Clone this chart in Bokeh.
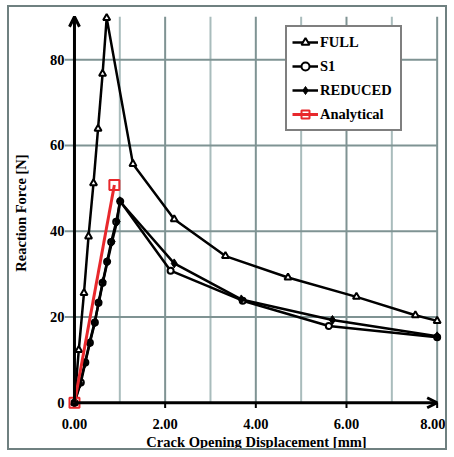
from bokeh.plotting import figure
from bokeh.models import (Range1d, FixedTicker, PrintfTickFormatter, Arrow, OpenHead, Legend)
from bokeh.embed import file_html
from bokeh.resources import INLINE

# ---- data ----
full_x = [0, 0.095, 0.21, 0.31, 0.42, 0.52, 0.62, 0.71, 1.29, 2.2, 3.33, 4.71, 6.22, 7.52, 8.0]
full_y = [0, 12.3, 25.6, 38.8, 51.2, 63.9, 76.7, 89.7, 55.7, 42.8, 34.2, 29.2, 24.7, 20.4, 19.1]

s1_x = [0, 0.14, 0.24, 0.34, 0.45, 0.53, 0.62, 0.72, 0.81, 0.92, 1.01, 2.12, 3.71, 5.61, 8.0]
s1_y = [0, 4.7, 9.4, 14.0, 18.7, 23.3, 28.0, 32.9, 37.5, 42.2, 47.0, 30.8, 23.8, 17.9, 15.3]

reduced_x = [0, 0.12, 0.23, 0.33, 0.44, 0.54, 0.63, 0.73, 0.83, 0.94, 1.0, 2.2, 3.68, 5.69, 8.0]
reduced_y = [0, 4.5, 9.2, 13.9, 18.6, 23.5, 28.2, 33.0, 37.6, 42.3, 47.0, 32.5, 24.1, 19.3, 15.5]

analytical_x = [0, 0.88]
analytical_y = [0, 50.8]

x_ticks = [0, 2, 4, 6, 8]
x_grid_major = [2, 4, 6, 8]
x_grid_minor = [1, 3, 5, 7]
y_ticks = [0, 20, 40, 60, 80]
y_grid = [20, 40, 60, 80]
X_MAX = 8
Y_MAX = 90
X_START, X_END = -0.22, 8.25
Y_START, Y_END = -2.5, 91

FONT = "Liberation Serif"
FS = "14.5px"
W, H = 440, 445

p = figure(width=W, height=H, output_backend="svg", toolbar_location=None,
           x_range=Range1d(X_START, X_END), y_range=Range1d(Y_START, Y_END),
           min_border_left=54, min_border_right=1, min_border_top=5, min_border_bottom=38,
           background_fill_color="white", border_fill_color="white",
           styles={"border": "2px solid #6f8080", "margin-left": "7px", "margin-top": "5px"})
p.outline_line_color = None
p.xgrid.visible = False
p.ygrid.visible = False

# grid lines drawn from the tick arrays
p.segment(x0=x_grid_minor, y0=[0] * len(x_grid_minor), x1=x_grid_minor, y1=[Y_MAX] * len(x_grid_minor),
          line_color="#a9bcbc", line_width=2)
p.segment(x0=x_grid_major, y0=[0] * len(x_grid_major), x1=x_grid_major, y1=[Y_MAX] * len(x_grid_major),
          line_color="#7f9393", line_width=2)
p.segment(x0=[X_START] * len(y_grid), y0=y_grid, x1=[X_MAX] * len(y_grid), y1=y_grid,
          line_color="#7f9393", line_width=2)
# x tick marks below the axis line
p.segment(x0=x_ticks, y0=[0] * len(x_ticks), x1=x_ticks, y1=[-1.2] * len(x_ticks),
          line_color="black", line_width=2)

# axes (labels only; lines drawn as arrows)
xa = p.xaxis[0]
xa.ticker = FixedTicker(ticks=x_ticks)
xa.formatter = PrintfTickFormatter(format="%.2f")
xa.axis_line_color = None
xa.major_tick_line_color = None
xa.major_tick_out = 0
xa.major_tick_in = 0
xa.minor_tick_line_color = None
xa.major_label_standoff = 5
xa.major_label_text_font = FONT
xa.major_label_text_font_style = "bold"
xa.major_label_text_font_size = FS
xa.major_label_text_color = "black"
xa.axis_label = "Crack Opening Displacement [mm]"
xa.axis_label_text_font = FONT
xa.axis_label_text_font_style = "bold"
xa.axis_label_text_font_size = FS
xa.axis_label_text_color = "black"
xa.axis_label_standoff = 2

ya = p.yaxis[0]
ya.ticker = FixedTicker(ticks=y_ticks)
ya.axis_line_color = None
ya.major_tick_line_color = None
ya.major_tick_out = 0
ya.major_tick_in = 0
ya.minor_tick_line_color = None
ya.major_label_standoff = 0
ya.major_label_text_font = FONT
ya.major_label_text_font_style = "bold"
ya.major_label_text_font_size = FS
ya.major_label_text_color = "black"
ya.axis_label = "Reaction Force [N]"
ya.axis_label_text_font = FONT
ya.axis_label_text_font_style = "bold"
ya.axis_label_text_font_size = FS
ya.axis_label_text_color = "black"
ya.axis_label_standoff = 18

# axis lines with arrow heads
p.add_layout(Arrow(end=OpenHead(size=10, line_width=3, line_color="black"),
                   x_start=0, y_start=0, x_end=X_MAX, y_end=0,
                   line_width=3, line_color="black"))
p.add_layout(Arrow(end=OpenHead(size=10, line_width=3, line_color="black"),
                   x_start=0, y_start=0, x_end=0, y_end=Y_MAX,
                   line_width=3, line_color="black"))

# series
r_full_l = p.line(full_x, full_y, line_color="black", line_width=2.5)
r_full_m = p.scatter(full_x, full_y, marker="triangle", size=7, fill_color="white",
                     line_color="black", line_width=2)
r_s1_l = p.line(s1_x, s1_y, line_color="black", line_width=2.5)
r_s1_m = p.scatter(s1_x, s1_y, marker="circle", size=6, fill_color="white",
                   line_color="black", line_width=2)
r_red_l = p.line(reduced_x, reduced_y, line_color="black", line_width=2.5)
r_red_m = p.scatter(reduced_x, reduced_y, marker="diamond", size=9, fill_color="black",
                    line_color="black", line_width=1)
r_an_l = p.line(analytical_x, analytical_y, line_color="#e8282c", line_width=3)
r_an_m = p.scatter(analytical_x, analytical_y, marker="square", size=10, fill_alpha=0,
                   line_color="#e8282c", line_width=2)

legend = Legend(items=[("FULL", [r_full_l, r_full_m]),
                       ("S1", [r_s1_l, r_s1_m]),
                       ("REDUCED", [r_red_l, r_red_m]),
                       ("Analytical", [r_an_l, r_an_m])],
                location=(221, 282))
legend.label_text_font = FONT
legend.label_text_font_style = "bold"
legend.label_text_font_size = FS
legend.label_text_color = "black"
legend.glyph_width = 26
legend.glyph_height = 20
legend.label_height = 20
legend.label_width = 75
legend.label_standoff = 2
legend.spacing = 4
legend.padding = 5
legend.margin = 0
legend.border_line_color = "black"
legend.border_line_width = 2
legend.background_fill_color = "white"
legend.background_fill_alpha = 1
p.add_layout(legend, "center")

with open("out.html", "w") as f:
    f.write(file_html(p, INLINE))
